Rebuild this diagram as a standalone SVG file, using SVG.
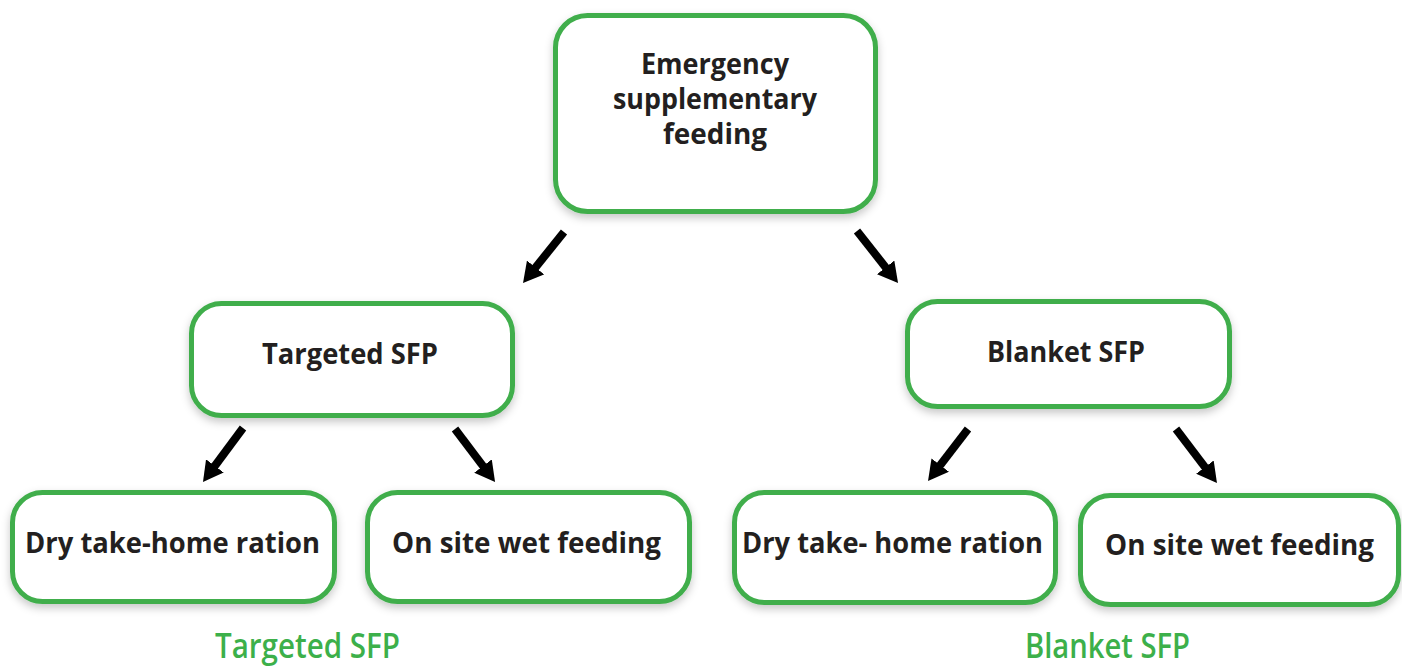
<svg xmlns="http://www.w3.org/2000/svg" width="1402" height="668" viewBox="0 0 1402 668">
<style>
.box{fill:#ffffff;stroke:#3fae4b;stroke-width:5;filter:url(#sh)}
.lbl{font-family:"Open Sans","Noto Sans","DejaVu Sans",sans-serif;font-weight:700;fill:#231f20;text-anchor:middle}
.cap{font-family:"Open Sans","Noto Sans","DejaVu Sans",sans-serif;font-weight:600;fill:#3cb04a;font-size:35px}
.arr{stroke:#000;stroke-width:8;fill:none;marker-end:url(#ah)}
</style>
<defs>
<filter id="sh" x="-10%" y="-10%" width="120%" height="130%">
<feDropShadow dx="0" dy="4" stdDeviation="4" flood-color="#000" flood-opacity="0.22"/>
</filter>
<marker id="ah" viewBox="0 -11 20 22" refX="2" refY="0" markerWidth="20" markerHeight="22" markerUnits="userSpaceOnUse" orient="auto">
<path d="M0,-11 L20,0 L0,11 z" fill="#000"/>
</marker>
</defs>
<rect width="1402" height="668" fill="#fff"/>
<g id="connectors">
<line class="arr" x1="564" y1="232" x2="534.3" y2="269"/>
<line class="arr" x1="857" y1="231" x2="886.9" y2="268.9"/>
<line class="arr" x1="243" y1="428" x2="213.7" y2="467.5"/>
<line class="arr" x1="455" y1="429" x2="484.2" y2="467.6"/>
<line class="arr" x1="968" y1="429" x2="939" y2="466.7"/>
<line class="arr" x1="1176" y1="429" x2="1206.1" y2="468.7"/>
</g>
<g id="n-esf">
<rect class="box" x="555.5" y="15.5" width="320" height="196" rx="32"/>
<text class="lbl" font-size="28" x="715" y="74" textLength="148" lengthAdjust="spacingAndGlyphs">Emergency</text>
<text class="lbl" font-size="28" x="715" y="109" textLength="204" lengthAdjust="spacingAndGlyphs">supplementary</text>
<text class="lbl" font-size="28" x="715" y="144" textLength="104" lengthAdjust="spacingAndGlyphs">feeding</text>
</g>
<g id="n-targeted">
<rect class="box" x="191.5" y="303.5" width="321" height="112" rx="30"/>
<text class="lbl" font-size="28" x="350" y="364" textLength="176" lengthAdjust="spacingAndGlyphs">Targeted SFP</text>
</g>
<g id="n-blanket">
<rect class="box" x="907.5" y="301.5" width="322" height="105" rx="30"/>
<text class="lbl" font-size="28" x="1066" y="362" textLength="158" lengthAdjust="spacingAndGlyphs">Blanket SFP</text>
</g>
<g id="n-t-dry">
<rect class="box" x="12.5" y="492.5" width="322" height="109" rx="30"/>
<text class="lbl" font-size="28" x="172.5" y="553" textLength="295" lengthAdjust="spacingAndGlyphs">Dry take-home ration</text>
</g>
<g id="n-t-wet">
<rect class="box" x="367.5" y="492.5" width="322" height="109" rx="30"/>
<text class="lbl" font-size="28" x="526.5" y="553" textLength="269" lengthAdjust="spacingAndGlyphs">On site wet feeding</text>
</g>
<g id="n-b-dry">
<rect class="box" x="734.5" y="492.5" width="321" height="110" rx="30"/>
<text class="lbl" font-size="28" x="892.5" y="553" textLength="301" lengthAdjust="spacingAndGlyphs">Dry take- home ration</text>
</g>
<g id="n-b-wet">
<rect class="box" x="1080.5" y="495.5" width="318" height="109" rx="30"/>
<text class="lbl" font-size="28" x="1239.5" y="555" textLength="269" lengthAdjust="spacingAndGlyphs">On site wet feeding</text>
</g>
<g id="captions">
<text class="cap" x="215" y="658" textLength="185" lengthAdjust="spacingAndGlyphs">Targeted SFP</text>
<text class="cap" x="1025" y="658" textLength="165" lengthAdjust="spacingAndGlyphs">Blanket SFP</text>
</g>
</svg>
